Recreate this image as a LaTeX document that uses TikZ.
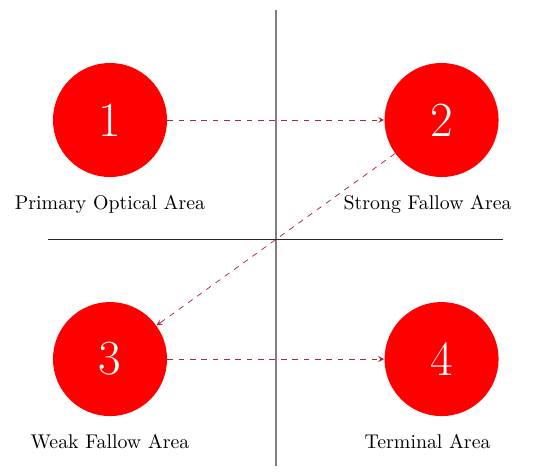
\documentclass[tikz,border=0pt]{standalone}
\usepackage{tikz}
\usetikzlibrary{positioning, arrows.meta, calc}

\definecolor{flowred}{RGB}{170,40,60}

\begin{document}
\begin{tikzpicture}[
        node distance=2.31cm and 4.03cm,
        area/.style={circle, fill=red, text=white, minimum size=2.12cm, inner sep=0pt, font=\fontsize{26}{30}\selectfont},
        caption/.style={align=center, font=\fontsize{10.5}{12.6}\selectfont},
        axis/.style={line width=0.5pt, black!85},
        vaxis/.style={line width=0.9pt, gray},
        arrow/.style={-stealth, dashed, flowred}
    ]
    \useasboundingbox (-2.045,2.231) rectangle (7.994,-6.6);

    \node[area] (One) at (0,0) {1};
    \node[area, right=of One] (Two) {2};
    \node[area, below=of One] (Three) {3};
    \node[area, right=of Three] (Four) {4};

    \node[caption, below=0.2cm of One] (OneText) {Primary Optical Area};
    \node[caption, below=0.2cm of Two, xshift=-0.26cm] (TwoText) {Strong Fallow Area};
    \node[caption, below=0.2cm of Three] (ThreeText) {Weak Fallow Area};
    \node[caption, below=0.2cm of Four, xshift=-0.26cm] (FourText) {Terminal Area};

    % quadrant lines
    \coordinate (Mid) at ($(One)!0.5!(Four)$);
    \coordinate (VTop) at (Mid |- 0,2.045);
    \coordinate (VBot) at (Mid |- 0,-6.43);
    \coordinate (HLeft) at (-1.153,0 |- Mid);
    \coordinate (HRight) at (7.306,0 |- Mid);
    \draw[vaxis] (VTop) -- (VBot);
    \draw[axis] (HLeft) -- (HRight);

    \draw[arrow] (One) -- (Two);
    \draw[arrow] (Two) -- (Three);
    \draw[arrow] (Three) -- (Four);

\end{tikzpicture}
\end{document}
